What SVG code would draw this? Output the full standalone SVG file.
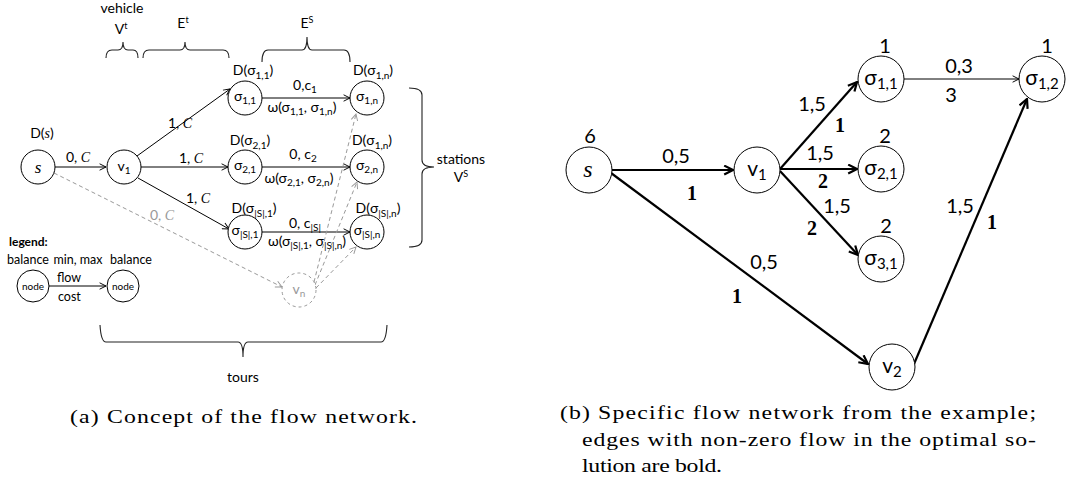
<svg xmlns="http://www.w3.org/2000/svg" width="1067" height="493" viewBox="0 0 1067 493" font-family="Lato, 'Liberation Sans', sans-serif">
<style>
.l{font-size:14px}
.r{font-size:20px}
.m{text-anchor:middle}
.it{font-family:"Liberation Serif",serif;font-style:italic}
.bs{font-family:"Liberation Serif",serif;font-weight:bold}
.cap{font-family:"Liberation Serif",serif;font-size:19px}
.lg{font-size:12.5px}
.n{fill:#fff;stroke:#000;stroke-width:1}
.e{fill:none;stroke:#000;stroke-width:1}
.eb{fill:none;stroke:#000;stroke-width:2.2}
.g{fill:none;stroke:#999;stroke-width:1;stroke-dasharray:4,3}
.br{fill:none;stroke:#222;stroke-width:1.1}
.gt{fill:#999}
</style>
<defs>
<marker id="a" viewBox="0 0 10 10" refX="9" refY="5" markerWidth="8" markerHeight="8" markerUnits="userSpaceOnUse" orient="auto"><path d="M1,1 L9,5 L1,9" fill="none" stroke="#000" stroke-width="1.2"/></marker>
<marker id="ag" viewBox="0 0 10 10" refX="9" refY="5" markerWidth="8" markerHeight="8" markerUnits="userSpaceOnUse" orient="auto"><path d="M1,1 L9,5 L1,9" fill="none" stroke="#999" stroke-width="1.2"/></marker>
<marker id="ab" viewBox="0 0 10 10" refX="9" refY="5" markerWidth="11" markerHeight="11" markerUnits="userSpaceOnUse" orient="auto"><path d="M1,1 L9,5 L1,9" fill="none" stroke="#000" stroke-width="2"/></marker>
</defs>

<!-- connectors -->
<g id="connectors">
<path class="e" d="M55,167 L106,167" marker-end="url(#a)"/>
<path class="e" d="M137,156 L230,89" marker-end="url(#a)"/>
<path class="e" d="M141,167 L228,167" marker-end="url(#a)"/>
<path class="e" d="M138,178 L229,229" marker-end="url(#a)"/>
<path class="e" d="M262,98 L350,98" marker-end="url(#a)"/>
<path class="e" d="M262,167 L350,167" marker-end="url(#a)"/>
<path class="e" d="M262,232 L350,232" marker-end="url(#a)"/>
<path class="g" d="M54,173 L282,287" marker-end="url(#ag)"/>
<path class="g" d="M314,282 L356,114" marker-end="url(#ag)"/>
<path class="g" d="M315,285 L357,182" marker-end="url(#ag)"/>
<path class="g" d="M316,288 L356,247" marker-end="url(#ag)"/>
<path class="e" d="M49,286 L106,286" marker-end="url(#a)"/>

<path class="eb" d="M612,170 L733,170" marker-end="url(#ab)"/>
<path class="eb" d="M780,169 L857,82" marker-end="url(#ab)"/>
<path class="eb" d="M780,169 L857,169" marker-end="url(#ab)"/>
<path class="eb" d="M780,171 L858,255" marker-end="url(#ab)"/>
<path class="eb" d="M611,173 L868,364" marker-end="url(#ab)"/>
<path class="eb" d="M914,364 L1027,99" marker-end="url(#ab)"/>
<path class="e" d="M904,79 L1019,79" marker-end="url(#a)"/>
</g>

<!-- left diagram nodes -->
<g id="L_s"><circle class="n" cx="38" cy="167" r="17"/><text class="it m" x="38" y="173" font-size="17">s</text>
<text class="l m" x="42" y="138">D(<tspan class="it">s</tspan>)</text></g>
<g id="L_v1"><circle class="n" cx="124" cy="167" r="17"/><text class="l m" x="124" y="171">v<tspan font-size="10" dy="3">1</tspan></text></g>
<g id="L_s11"><circle class="n" cx="245" cy="98" r="17"/><text class="l m" x="245" y="101">σ<tspan font-size="10" dy="3">1,1</tspan></text>
<text class="l m" x="253" y="75">D(σ<tspan font-size="10" dy="4">1,1</tspan><tspan dy="-4">)</tspan></text></g>
<g id="L_s1n"><circle class="n" cx="367" cy="98" r="17"/><text class="l m" x="367" y="101">σ<tspan font-size="10" dy="3">1,n</tspan></text>
<text class="l m" x="373" y="75">D(σ<tspan font-size="10" dy="4">1,n</tspan><tspan dy="-4">)</tspan></text></g>
<g id="L_s21"><circle class="n" cx="245" cy="167" r="17"/><text class="l m" x="245" y="170">σ<tspan font-size="10" dy="3">2,1</tspan></text>
<text class="l m" x="250" y="145">D(σ<tspan font-size="10" dy="4">2,1</tspan><tspan dy="-4">)</tspan></text></g>
<g id="L_s2n"><circle class="n" cx="367" cy="167" r="17"/><text class="l m" x="367" y="170">σ<tspan font-size="10" dy="3">2,n</tspan></text>
<text class="l m" x="372" y="145">D(σ<tspan font-size="10" dy="4">1,n</tspan><tspan dy="-4">)</tspan></text></g>
<g id="L_sS1"><circle class="n" cx="245" cy="232" r="17"/><text class="l m" x="245" y="235">σ<tspan font-size="10" dy="3">|S|,1</tspan></text>
<text class="l m" x="254" y="213">D(σ<tspan font-size="10" dy="4">|S|,1</tspan><tspan dy="-4">)</tspan></text></g>
<g id="L_sSn"><circle class="n" cx="367" cy="232" r="17"/><text class="l m" x="367" y="235">σ<tspan font-size="10" dy="3">|S|,n</tspan></text>
<text class="l m" x="378" y="213">D(σ<tspan font-size="10" dy="4">|S|,n</tspan><tspan dy="-4">)</tspan></text></g>
<g id="L_vn"><circle cx="299" cy="290" r="17" fill="#fff" stroke="#999" stroke-width="1" stroke-dasharray="3,3"/><text class="l m gt" x="299" y="294">v<tspan font-size="10" dy="3">n</tspan></text></g>

<!-- left edge labels -->
<g id="L_labels">
<text class="l m" x="78" y="162">0, <tspan class="it">C</tspan></text>
<text class="l m" x="180" y="128">1, <tspan class="it">C</tspan></text>
<text class="l m" x="191" y="163">1, <tspan class="it">C</tspan></text>
<text class="l m" x="198" y="203">1, <tspan class="it">C</tspan></text>
<text class="l m gt" x="162" y="220">0, <tspan class="it gt">C</tspan></text>
<text class="l m" x="305" y="90">0,c<tspan font-size="10" dy="3">1</tspan></text>
<text class="l m" x="302" y="112">ω(σ<tspan font-size="10" dy="3">1,1</tspan><tspan dy="-3">, σ</tspan><tspan font-size="10" dy="3">1,n</tspan><tspan dy="-3">)</tspan></text>
<text class="l m" x="303" y="159">0, c<tspan font-size="10" dy="3">2</tspan></text>
<text class="l m" x="299" y="183">ω(σ<tspan font-size="10" dy="3">2,1</tspan><tspan dy="-3">, σ</tspan><tspan font-size="10" dy="3">2,n</tspan><tspan dy="-3">)</tspan></text>
<text class="l m" x="305" y="228">0, c<tspan font-size="10" dy="3">|S|</tspan></text>
<text class="l m" x="307" y="246">ω(σ<tspan font-size="10" dy="3">|S|,1</tspan><tspan dy="-3">, σ</tspan><tspan font-size="10" dy="3">|S|,n</tspan><tspan dy="-3">)</tspan></text>
</g>

<!-- braces -->
<g id="braces">
<path class="br" d="M106,58 Q106,50 112,50 L118,50 Q123,50 123,42 Q123,50 128,50 L133,50 Q138,50 138,58"/>
<path class="br" d="M143,58 Q143,50 149,50 L180,50 Q185,50 185,42 Q185,50 190,50 L223,50 Q229,50 229,58"/>
<path class="br" d="M262,62 Q262,50 268,50 L302,50 Q307,50 307,37 Q307,50 312,50 L344,50 Q350,50 350,62"/>
<path class="br" d="M409,88 Q422,88 422,95 L422,160 Q422,167 434,167 Q422,167 422,174 L422,240 Q422,247 409,247"/>
<path class="br" d="M100,325 Q101,342 106,342 L238,342 Q243,342 243,357 Q243,342 248,342 L381,342 Q386,342 387,325"/>
<text class="l m" x="122" y="13">vehicle</text>
<text class="l m" x="121" y="34">V<tspan font-size="9" dy="-5">t</tspan></text>
<text class="l m" x="183" y="28">E<tspan font-size="9" dy="-5">t</tspan></text>
<text class="l m" x="307" y="28">E<tspan font-size="9" dy="-5">S</tspan></text>
<text class="l m" x="461" y="164">stations</text>
<text class="l m" x="461" y="182">V<tspan font-size="9" dy="-5">S</tspan></text>
<text class="l m" x="243" y="382">tours</text>
</g>

<!-- legend -->
<g id="legend">
<text x="9" y="246" font-size="12" font-weight="bold">legend:</text>
<text class="m lg" x="28" y="264">balance</text>
<text class="m lg" x="78" y="264">min, max</text>
<text class="m lg" x="131" y="264">balance</text>
<text class="lg" x="57" y="282">flow</text>
<text class="lg" x="58" y="301">cost</text>
<g id="leg_n1"><circle class="n" cx="33" cy="286" r="16"/><text class="m" x="33" y="290" font-size="10">node</text></g>
<g id="leg_n2"><circle class="n" cx="123" cy="286" r="16"/><text class="m" x="123" y="290" font-size="10">node</text></g>
</g>

<!-- right diagram nodes -->
<g id="R_s"><circle class="n" cx="589" cy="170" r="23"/><text class="it m" x="588" y="177" font-size="24">s</text><text class="r m" x="590" y="143">6</text></g>
<g id="R_v1"><circle class="n" cx="757" cy="170" r="23"/><text class="m" x="757" y="176" font-size="21">v<tspan font-size="15" dy="4">1</tspan></text></g>
<g id="R_s11"><circle class="n" cx="881" cy="79" r="23"/><text class="m" x="881" y="85" font-size="21">σ<tspan font-size="15" dy="4">1,1</tspan></text><text class="r m" x="885" y="53">1</text></g>
<g id="R_s12"><circle class="n" cx="1042" cy="79" r="23"/><text class="m" x="1042" y="85" font-size="21">σ<tspan font-size="15" dy="4">1,2</tspan></text><text class="r m" x="1047" y="53">1</text></g>
<g id="R_s21"><circle class="n" cx="881" cy="169" r="23"/><text class="m" x="881" y="175" font-size="21">σ<tspan font-size="15" dy="4">2,1</tspan></text><text class="r m" x="885" y="143">2</text></g>
<g id="R_s31"><circle class="n" cx="881" cy="259" r="23"/><text class="m" x="881" y="265" font-size="21">σ<tspan font-size="15" dy="4">3,1</tspan></text><text class="r m" x="886" y="233">2</text></g>
<g id="R_v2"><circle class="n" cx="892" cy="367" r="23"/><text class="m" x="892" y="373" font-size="21">v<tspan font-size="15" dy="4">2</tspan></text></g>

<!-- right edge labels -->
<g id="R_labels">
<text class="r m" x="676" y="163">0,5</text>
<text class="r m bs" x="692" y="200">1</text>
<text class="r m" x="959" y="73">0,3</text>
<text class="r m" x="951" y="102">3</text>
<text class="r m" x="812" y="111">1,5</text>
<text class="r m bs" x="840" y="132">1</text>
<text class="r m" x="820" y="160">1,5</text>
<text class="r m bs" x="823" y="188">2</text>
<text class="r m" x="837" y="213">1,5</text>
<text class="r m bs" x="812" y="235">2</text>
<text class="r m" x="960" y="213">1,5</text>
<text class="r m bs" x="992" y="229">1</text>
<text class="r m" x="764" y="269">0,5</text>
<text class="r m bs" x="737" y="303">1</text>
</g>

<!-- captions -->
<g id="captions">
<text class="cap" transform="translate(70,423) scale(1.25,1)" textLength="277.6" lengthAdjust="spacing">(a) Concept of the flow network.</text>
<text class="cap" transform="translate(560,419) scale(1.25,1)" textLength="24" lengthAdjust="spacing">(b)</text>
<text class="cap" transform="translate(598,419) scale(1.25,1)" textLength="350.4" lengthAdjust="spacing">Specific flow network from the example;</text>
<text class="cap" transform="translate(582,446) scale(1.25,1)" textLength="363.2" lengthAdjust="spacing">edges with non-zero flow in the optimal so-</text>
<text class="cap" transform="translate(582,472) scale(1.25,1)" textLength="112" lengthAdjust="spacing">lution are bold.</text>
</g>
</svg>
